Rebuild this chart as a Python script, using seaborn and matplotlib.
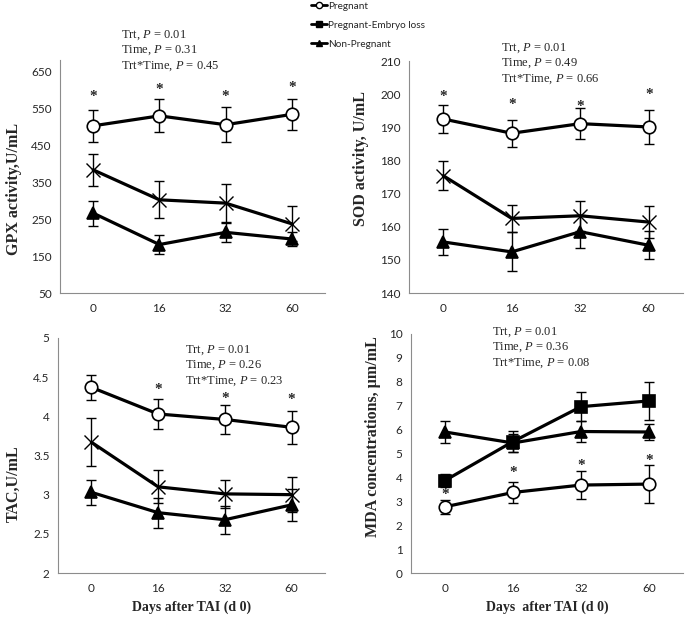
import numpy as np
import pandas as pd
import matplotlib
matplotlib.use("Agg")
import matplotlib.pyplot as plt
from matplotlib.lines import Line2D
import seaborn as sns

days = ["0", "16", "32", "60"]
groups = ["Pregnant", "Pregnant-Embryo loss", "Non-Pregnant"]

# GPX activity, U/mL
gpx_preg = [502, 529, 505, 533]
gpx_preg_se = [43, 45, 48, 42]
gpx_loss = [383, 302, 293, 237]
gpx_loss_se = [43, 50, 51, 47]
gpx_non = [266, 181, 214, 196]
gpx_non_se = [34, 25, 25, 20]
gpx_stars = [581, 599, 581, 606]

# SOD activity, U/mL
sod_preg = [192.5, 188.2, 191.1, 190.1]
sod_preg_se = [4.3, 4.0, 4.6, 5.0]
sod_loss = [175.4, 162.5, 163.3, 161.4]
sod_loss_se = [4.3, 4.0, 4.5, 4.8]
sod_non = [155.4, 152.4, 158.5, 154.4]
sod_non_se = [4.0, 5.9, 5.0, 4.2]
sod_stars = [199.3, 197.0, 196.2, 200.0]

# TAC, U/mL
tac_preg = [4.37, 4.03, 3.96, 3.86]
tac_preg_se = [0.16, 0.19, 0.19, 0.21]
tac_loss = [3.67, 3.10, 3.01, 3.00]
tac_loss_se = [0.31, 0.21, 0.18, 0.22]
tac_non = [3.03, 2.77, 2.68, 2.87]
tac_non_se = [0.16, 0.19, 0.18, 0.20]
tac_stars = [None, 4.34, 4.23, 4.22]

# MDA concentrations, um/mL
mda_preg = [2.77, 3.37, 3.68, 3.72]
mda_preg_se = [0.30, 0.45, 0.60, 0.78]
mda_loss = [3.87, 5.50, 6.96, 7.20]
mda_loss_se = [0.27, 0.45, 0.61, 0.79]
mda_non = [5.90, 5.44, 5.92, 5.90]
mda_non_se = [0.46, 0.38, 0.45, 0.33]
mda_stars = [3.28, 4.21, 4.50, 4.70]

sns.set_theme(style="white")
plt.rcParams["font.family"] = ["Lato", "DejaVu Sans"]
plt.rcParams["mathtext.fontset"] = "custom"
plt.rcParams["mathtext.rm"] = "Liberation Serif"
plt.rcParams["mathtext.it"] = "Liberation Serif:italic"

W, H = 685, 617
fig = plt.figure(figsize=(W / 100, H / 100), dpi=100)


def px_axes(left, top, right, bottom):
    return fig.add_axes([left / W, 1 - bottom / H, (right - left) / W, (bottom - top) / H])


def draw_panel(ax, series, stars, ylim, yticks, ylabel, label_xy, mid_marker, stats, stats_xy):
    rows = []
    for name, vals, se in series:
        for i, v in enumerate(vals):
            rows.append({"group": name, "x": i, "y": v, "se": se[i]})
    df = pd.DataFrame(rows)
    markers = {"Pregnant": "o", "Pregnant-Embryo loss": mid_marker, "Non-Pregnant": "^"}
    sizes = {"o": 9, "x": 10, "s": 9, "^": 8}
    for name in groups:
        d = df[df["group"] == name]
        ax.errorbar(d["x"], d["y"], yerr=d["se"], fmt="none", ecolor="black",
                    elinewidth=1, capsize=3.5, capthick=1, zorder=2)
        m = markers[name]
        face = "white" if m == "o" else "black"
        sns.lineplot(data=d, x="x", y="y", ax=ax, color="black", linewidth=2.3,
                     marker=m, markersize=sizes[m], markerfacecolor=face,
                     markeredgecolor="black", markeredgewidth=1.2 if m != "x" else 1.0,
                     legend=False, zorder=3)
    for i, s in enumerate(stars):
        if s is not None:
            ax.text(i, s, "*", ha="center", va="center", fontsize=11,
                    fontweight="bold", family="Liberation Serif")
    ax.set_xlim(-0.5, 3.5)
    ax.set_ylim(*ylim)
    ax.set_yticks(yticks)
    ax.set_xticks(range(4))
    ax.set_xticklabels(days)
    ax.set_xticks(np.arange(-0.5, 3.6, 1), minor=True)
    ax.tick_params(axis="x", which="major", length=0, pad=7, labelsize=8.5)
    ax.tick_params(axis="x", which="minor", length=4, width=0.8, color="#8c8c8c", direction="out")
    ax.tick_params(axis="y", length=4, width=0.8, color="#8c8c8c", direction="out", labelsize=8.5, pad=2)
    ax.set_xlabel("")
    ax.set_ylabel(ylabel, family="Liberation Serif", fontweight="bold", fontsize=11.5)
    ax.yaxis.set_label_coords(*label_xy)
    sns.despine(ax=ax)
    for sp in ("left", "bottom"):
        ax.spines[sp].set_color("#8c8c8c")
        ax.spines[sp].set_linewidth(0.8)
    fig.text(stats_xy[0] / W, 1 - stats_xy[1] / H, stats, ha="left", va="top",
             fontsize=9, family="Liberation Serif", linespacing=1.25)


def stats_text(a, b, c):
    return ("Trt, $\\it{P}$ = %s\nTime, $\\it{P}$ = %s\nTrt*Time, $\\it{P}$ = %s" % (a, b, c))


ax1 = px_axes(60, 60, 325, 293)
draw_panel(ax1,
           [("Pregnant", gpx_preg, gpx_preg_se),
            ("Pregnant-Embryo loss", gpx_loss, gpx_loss_se),
            ("Non-Pregnant", gpx_non, gpx_non_se)],
           gpx_stars, (50, 680), [50, 150, 250, 350, 450, 550, 650],
           "GPX activity,U/mL", (-0.143, 0.446), "x",
           stats_text("0.01", "0.31", "0.45"), (121, 28))

ax2 = px_axes(409, 61, 683, 293)
draw_panel(ax2,
           [("Pregnant", sod_preg, sod_preg_se),
            ("Pregnant-Embryo loss", sod_loss, sod_loss_se),
            ("Non-Pregnant", sod_non, sod_non_se)],
           sod_stars, (140, 210), [140, 150, 160, 170, 180, 190, 200, 210],
           "SOD activity, U/mL", (-0.146, 0.58), "x",
           stats_text("0.01", "0.49", "0.66"), (501, 41))

ax3 = px_axes(58, 338, 325, 573)
draw_panel(ax3,
           [("Pregnant", tac_preg, tac_preg_se),
            ("Pregnant-Embryo loss", tac_loss, tac_loss_se),
            ("Non-Pregnant", tac_non, tac_non_se)],
           tac_stars, (2, 5), [2, 2.5, 3, 3.5, 4, 4.5, 5],
           "TAC,U/mL", (-0.135, 0.38), "x",
           stats_text("0.01", "0.26", "0.23"), (185, 343))
ax3.set_yticklabels(["2", "2.5", "3", "3.5", "4", "4.5", "5"])
ax3.set_xlabel("Days after TAI (d 0)", family="Liberation Serif", fontweight="bold",
               fontsize=10, labelpad=5)

ax4 = px_axes(411, 334, 683, 573)
draw_panel(ax4,
           [("Pregnant", mda_preg, mda_preg_se),
            ("Pregnant-Embryo loss", mda_loss, mda_loss_se),
            ("Non-Pregnant", mda_non, mda_non_se)],
           mda_stars, (0, 10), list(range(0, 11)),
           "MDA concentrations, \u00b5m/mL", (-0.11, 0.569), "s",
           stats_text("0.01", "0.36", "0.08"), (492, 325))
ax4.set_xlabel("Days  after TAI (d 0)", family="Liberation Serif", fontweight="bold",
               fontsize=10, labelpad=5)

handles = [
    Line2D([0], [0], color="black", lw=2, marker="o", ms=4.5, mfc="white", mec="black"),
    Line2D([0], [0], color="black", lw=2, marker="s", ms=5, mfc="black", mec="black"),
    Line2D([0], [0], color="black", lw=2, marker="^", ms=5, mfc="black", mec="black"),
]
fig.legend(handles, groups, loc="upper left", bbox_to_anchor=(310 / W, 0.999),
           frameon=False, fontsize=7.2, handlelength=1.6, handletextpad=0.1,
           labelspacing=1.0, borderaxespad=0, borderpad=0.1)

fig.savefig("out.png", dpi=100)
